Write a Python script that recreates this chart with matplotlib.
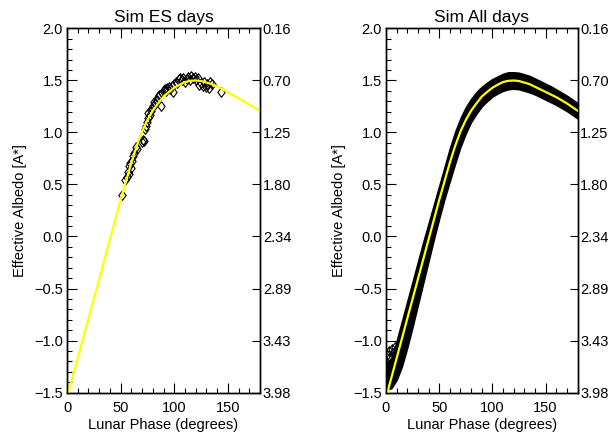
import matplotlib
matplotlib.use("Agg")
import matplotlib.pyplot as plt
from matplotlib.ticker import MultipleLocator, FixedLocator

plt.rcParams['font.family'] = ['Liberation Sans', 'DejaVu Sans']
plt.rcParams['axes.unicode_minus'] = True

# ---------------- data ----------------
titles = ["Sim ES days", "Sim All days"]
xlabel = "Lunar Phase (degrees)"
ylabel = "Effective Albedo [A*]"
x_ticks = [0, 50, 100, 150]
y_ticks = [-1.5, -1.0, -0.5, 0.0, 0.5, 1.0, 1.5, 2.0]
right_labels = ["3.98", "3.43", "2.89", "2.34", "1.80", "1.25", "0.70", "0.16"]

# ES-days simulated points (phase deg, effective albedo)
es_phase = [51.6, 54.5, 55.8, 56.5, 57.5, 58.2, 58.9, 59.5, 60.5, 61.5, 62.5, 64.0,
            65.0, 69.5, 70.5, 71.5, 72.5, 73.5, 74.5, 75.5, 76.0, 77.0, 78.0, 79.0,
            80.5, 81.5, 82.5, 83.5, 84.5, 86.0, 87.5, 88.5, 90.0, 91.0, 92.0, 93.5,
            95.0, 96.0, 97.5, 99.0, 100.0, 101.5, 102.5, 104.0, 105.5, 107.0, 108.5,
            110.0, 111.5, 113.0, 114.5, 116.0, 117.5, 119.0, 120.5, 122.0, 123.5,
            125.0, 126.5, 128.0, 129.5, 131.0, 132.0, 133.5, 135.0, 143.5]
es_value = [0.40, 0.54, 0.57, 0.62, 0.60, 0.68, 0.71, 0.66, 0.73, 0.77, 0.80, 0.86,
            0.84, 0.91, 0.93, 0.92, 1.03, 1.06, 1.10, 1.14, 1.19, 1.17, 1.21, 1.24,
            1.25, 1.29, 1.27, 1.31, 1.34, 1.36, 1.25, 1.38, 1.41, 1.42, 1.40, 1.43,
            1.44, 1.42, 1.45, 1.39, 1.47, 1.49, 1.48, 1.51, 1.52, 1.50, 1.52,
            1.49, 1.51, 1.53, 1.50, 1.54, 1.52, 1.53, 1.50, 1.52, 1.46,
            1.48, 1.45, 1.49, 1.44, 1.47, 1.43, 1.49, 1.47, 1.39]

# model fit sampled at the ES-day phases (plus the end points)
es_fit_phase = [0, 51.6, 55, 60, 65, 70, 75, 80, 85, 90, 95, 100, 105, 110, 115,
                120, 125, 130, 135, 143.5, 180]
es_fit_value = [-1.55, 0.41, 0.53, 0.71, 0.87, 1.01, 1.12, 1.21, 1.28, 1.345, 1.39,
                1.43, 1.46, 1.485, 1.497, 1.50, 1.495, 1.48, 1.465, 1.425, 1.21]

# model fit over all days
all_fit_phase = [0, 10, 20, 30, 40, 45, 50, 55, 60, 65, 70, 75, 80, 85, 90, 95, 100,
                 105, 110, 115, 120, 125, 130, 135, 140, 145, 150, 155, 160, 165,
                 170, 175, 180]
all_fit_value = [-1.55, -1.17, -0.79, -0.41, -0.03, 0.16, 0.35, 0.53, 0.71, 0.87,
                 1.01, 1.12, 1.21, 1.28, 1.345, 1.39, 1.43, 1.46, 1.485, 1.497, 1.50,
                 1.495, 1.48, 1.465, 1.44, 1.415, 1.39, 1.365, 1.34, 1.31, 1.28,
                 1.245, 1.21]

# all-days simulated point cloud: lower / upper envelope per phase
band_phase = [0, 5, 10, 15, 20, 25, 30, 35, 40, 45, 50, 55, 60, 65, 70, 75, 80, 85,
              90, 95, 100, 105, 110, 115, 120, 125, 130, 135, 140, 145, 150, 155,
              160, 165, 170, 175, 180]
band_low = [-1.47, -1.46, -1.38, -1.25, -1.07, -0.87, -0.66, -0.45, -0.24, -0.03,
            0.17, 0.36, 0.53, 0.70, 0.86, 0.99, 1.10, 1.18, 1.25, 1.30, 1.345, 1.375,
            1.40, 1.415, 1.42, 1.415, 1.40, 1.385, 1.365, 1.34, 1.315, 1.29, 1.265,
            1.235, 1.205, 1.17, 1.135]
band_high = [-1.22, -1.18, -1.00, -0.81, -0.62, -0.43, -0.24, -0.05, 0.13, 0.31,
             0.49, 0.67, 0.85, 1.01, 1.14, 1.245, 1.325, 1.39, 1.44, 1.48, 1.515,
             1.54, 1.565, 1.58, 1.58, 1.575, 1.56, 1.545, 1.52, 1.495, 1.47, 1.445,
             1.415, 1.385, 1.355, 1.32, 1.285]

# sparse open diamonds above the cloud at small phases
sparse_phase = [1.0, 2.5, 4.0, 5.5, 7.0, 8.5, 3.0, 6.0]
sparse_value = [-1.14, -1.10, -1.16, -1.08, -1.12, -1.06, -1.24, -1.20]

# ---------------- figure ----------------
fig = plt.figure(figsize=(6.13, 4.34), dpi=100)
W, H = 613.0, 434.0
axL = fig.add_axes([67 / W, 41.5 / H, 193 / W, 364 / H])
axR = fig.add_axes([386 / W, 41.5 / H, 191.5 / W, 364 / H])

diamond = [(0, 1), (0.75, 0), (0, -1), (-0.75, 0), (0, 1)]
YEL = "#ffff00"
FS = 10.5


def style(ax, title):
    ax.set_xlim(0, 180)
    ax.set_ylim(-1.5, 2.0)
    ax.xaxis.set_major_locator(FixedLocator(x_ticks))
    ax.xaxis.set_minor_locator(MultipleLocator(10))
    ax.yaxis.set_major_locator(FixedLocator(y_ticks))
    ax.yaxis.set_minor_locator(MultipleLocator(0.1))
    ax.set_yticklabels([f"{v:.1f}".replace("-", "\u2212") for v in y_ticks])
    ax.tick_params(which="both", direction="in", top=True, right=False,
                   width=0.8, colors="black", labelsize=FS)
    ax.tick_params(which="major", length=7)
    ax.tick_params(which="minor", length=3.5)
    ax.tick_params(axis="x", pad=6)
    ax.tick_params(axis="y", pad=3)
    for s in ax.spines.values():
        s.set_linewidth(1.0)
    ax.set_title(title, fontsize=12.5, pad=5)
    ax.set_xlabel(xlabel, fontsize=FS, labelpad=2)
    ax.set_ylabel(ylabel, fontsize=FS, labelpad=5)
    tw = ax.twinx()
    tw.set_ylim(-1.5, 2.0)
    tw.yaxis.set_major_locator(FixedLocator(y_ticks))
    tw.set_yticklabels(right_labels)
    tw.tick_params(direction="in", length=6, width=0.8, labelsize=FS, pad=2)
    for s in tw.spines.values():
        s.set_linewidth(1.0)


# left panel
axL.plot(es_phase, es_value, linestyle="none", marker=diamond, markersize=7,
         markerfacecolor="none", markeredgecolor="black", markeredgewidth=0.8,
         zorder=3)
axL.plot(es_fit_phase, es_fit_value, color=YEL, linewidth=1.6, zorder=4)
style(axL, titles[0])

# right panel
axR.fill_between(band_phase, band_low, band_high, facecolor="black",
                 edgecolor="black", linewidth=1.0, zorder=2)
axR.plot(sparse_phase, sparse_value, linestyle="none", marker=diamond,
         markersize=7, markerfacecolor="none", markeredgecolor="black",
         markeredgewidth=0.8, zorder=3)
axR.plot(all_fit_phase, all_fit_value, color=YEL, linewidth=1.6, zorder=4)
style(axR, titles[1])

fig.savefig("out.png", dpi=100)
